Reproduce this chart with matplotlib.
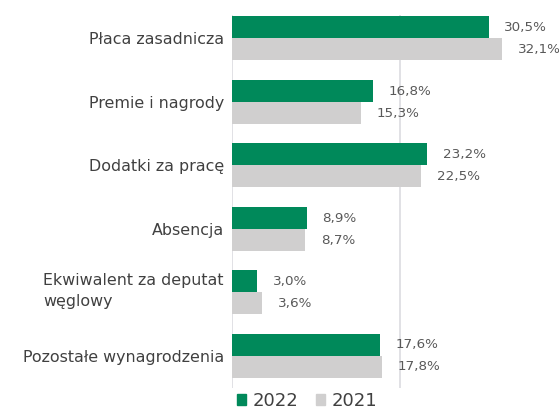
import matplotlib.pyplot as plt
from matplotlib.patches import Patch
from matplotlib.transforms import ScaledTranslation

categories = ['Płaca zasadnicza', 'Premie i nagrody', 'Dodatki za pracę', 'Absencja',
              'Ekwiwalent za deputat\nwęglowy', 'Pozostałe wynagrodzenia']
values_2022 = [30.5, 16.8, 23.2, 8.9, 3.0, 17.6]
values_2021 = [32.1, 15.3, 22.5, 8.7, 3.6, 17.8]
labels_2022 = ['30,5%', '16,8%', '23,2%', '8,9%', '3,0%', '17,6%']
labels_2021 = ['32,1%', '15,3%', '22,5%', '8,7%', '3,6%', '17,8%']

green = '#00895A'
grey = '#D0CFCF'
text_col = '#404040'

plt.rcParams['font.family'] = ['DejaVu Sans']

fig = plt.figure(figsize=(5.59, 4.08), dpi=100)
ax = fig.add_axes([232 / 559, 1 - 388 / 408, 320 / 559, 373 / 408])

pos = list(range(len(categories)))
h = 0.347
ax.barh([p - h / 2 for p in pos], values_2022, height=h, color=green, zorder=2)
ax.barh([p + h / 2 for p in pos], values_2021, height=h, color=grey, zorder=2)

for p, v, lab in zip(pos, values_2022, labels_2022):
    ax.text(v + 1.85, p - h / 2 + 0.005, lab, va='center', ha='left', fontsize=9.7, color='#595959')
for p, v, lab in zip(pos, values_2021, labels_2021):
    ax.text(v + 1.85, p + h / 2 + 0.005, lab, va='center', ha='left', fontsize=9.7, color='#595959')

ax.set_xlim(0, 38)
ax.set_ylim(5.51, -0.37)
ax.set_yticks(pos)
ax.set_yticklabels(categories, fontsize=11.4, color=text_col, ha='right', linespacing=1.5)
ax.tick_params(axis='y', length=0, pad=5.8)
for t in ax.get_yticklabels():
    t.set_multialignment('left')
    if '\n' in t.get_text():
        t.set_transform(t.get_transform() + ScaledTranslation(0, 6 / 100, fig.dpi_scale_trans))
ax.set_xticks([])
for s in ax.spines.values():
    s.set_visible(False)
for x in [0, 20]:
    ax.axvline(x, color='#DCDCE0', lw=1.2, zorder=1)

handles = [Patch(color=green, label='2022'), Patch(color=grey, label='2021')]
fig.legend(handles=handles, loc='center', bbox_to_anchor=(307 / 559, 1 - 401 / 408), ncol=2,
           frameon=False, fontsize=13, handlelength=0.5, handleheight=0.5,
           handletextpad=0.35, columnspacing=1.0, labelcolor=text_col)

fig.savefig('out.png', dpi=100)
